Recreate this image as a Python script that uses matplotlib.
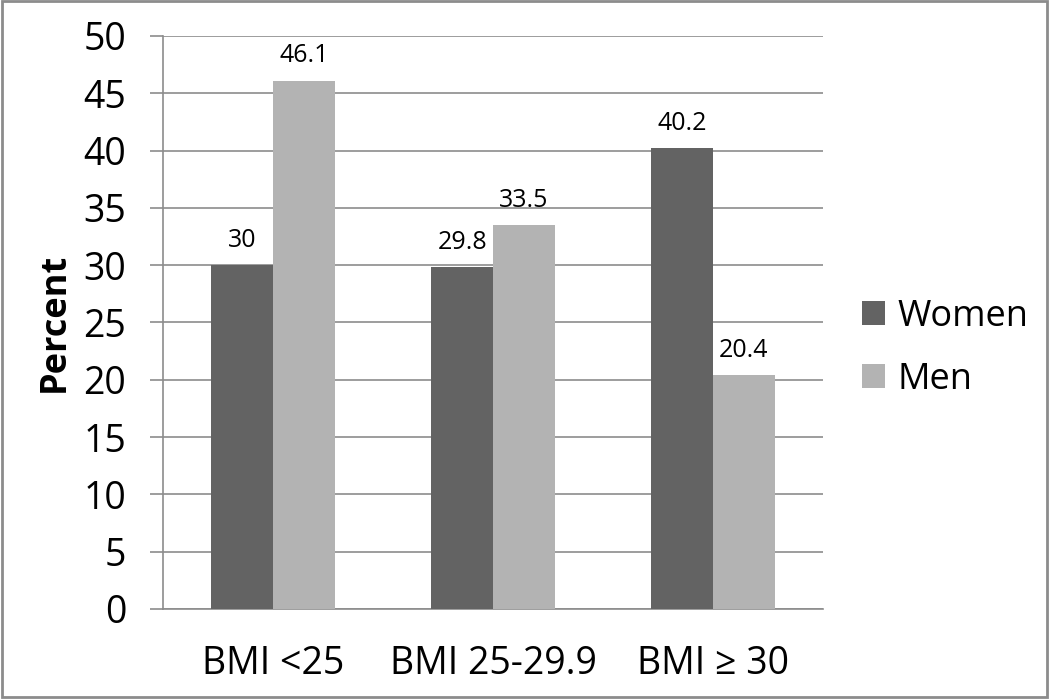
import matplotlib.pyplot as plt
import numpy as np
from matplotlib.patches import Rectangle

plt.rcParams['font.family'] = ['Open Sans', 'DejaVu Sans']

categories = ['BMI <25', 'BMI 25-29.9', 'BMI \u2265 30']
women = [30, 29.8, 40.2]
men = [46.1, 33.5, 20.4]
women_labels = ['30', '29.8', '40.2']
men_labels = ['46.1', '33.5', '20.4']
yticks = [0, 5, 10, 15, 20, 25, 30, 35, 40, 45, 50]

grid_col = '#8c8c8c'

fig = plt.figure(figsize=(10.5, 6.99), dpi=100)
ax = fig.add_axes([0.1552, 0.1288, 0.6286, 0.8197])

x = np.arange(len(categories))
w = 0.28
b1 = ax.bar(x - w / 2, women, w, color='#636363', label='Women', zorder=3)
b2 = ax.bar(x + w / 2, men, w, color='#b3b3b3', label='Men', zorder=3)

for bars, labs in [(b1, women_labels), (b2, men_labels)]:
    for r, lab in zip(bars, labs):
        ax.annotate(lab, (r.get_x() + r.get_width() / 2, r.get_height()),
                    xytext=(0, 9), textcoords='offset points',
                    ha='center', va='bottom', fontsize=18)

ax.set_xlim(-0.5, 2.5)
ax.set_ylim(0, 50)
ax.set_yticks(yticks)
ax.set_xticks(x)
ax.set_xticklabels(categories, fontsize=27)
ax.tick_params(axis='y', labelsize=27, length=9.4, color=grid_col, width=1.2, pad=17)
ax.tick_params(axis='x', length=0, pad=26)
ax.yaxis.grid(True, color=grid_col, linewidth=1.2, zorder=0)
ax.set_axisbelow(True)
for s in ['top', 'right']:
    ax.spines[s].set_visible(False)
for s in ['left', 'bottom']:
    ax.spines[s].set_color(grid_col)
    ax.spines[s].set_linewidth(1.2)

ax.set_ylabel('Percent', fontsize=26, fontweight='bold', labelpad=8)

fig.legend(handles=[b1, b2], loc='center left', bbox_to_anchor=(0.79, 0.502),
           frameon=False, fontsize=26, handlelength=0.63, handleheight=0.63,
           handletextpad=0.35, labelspacing=0.75)

fig.patches.append(Rectangle((0.002, 0.003), 0.995, 0.995, transform=fig.transFigure,
                             fill=False, edgecolor='#8c8c8c', linewidth=2))

fig.savefig('out.png', dpi=100)
